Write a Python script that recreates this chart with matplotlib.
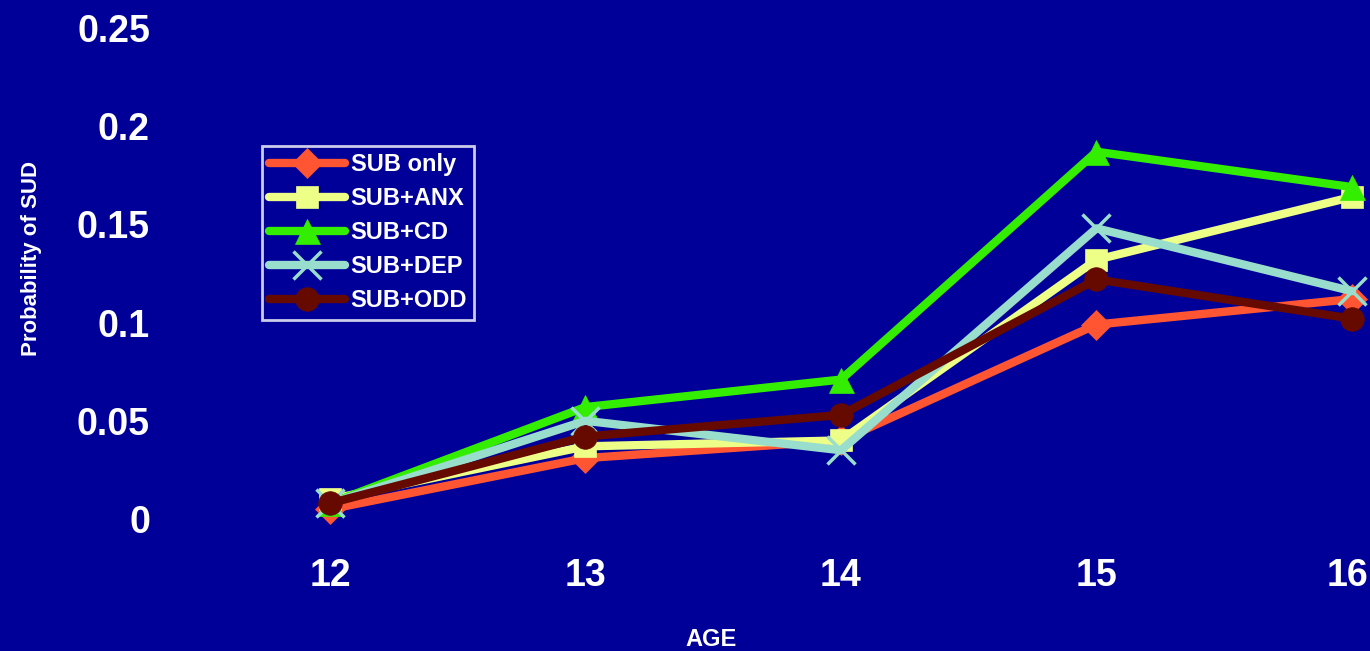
import matplotlib
matplotlib.use("Agg")
import matplotlib.pyplot as plt
import matplotlib.transforms as mtransforms

# data
AGES = [12, 13, 14, 15, 16]
SERIES = ["SUB only", "SUB+ANX", "SUB+CD", "SUB+DEP", "SUB+ODD"]

sub_only = [0.005, 0.031, 0.040, 0.099, 0.112]
sub_anx = [0.010, 0.037, 0.040, 0.132, 0.164]
sub_cd = [0.008, 0.057, 0.071, 0.187, 0.169]
sub_dep = [0.008, 0.050, 0.035, 0.148, 0.116]
sub_odd = [0.008, 0.042, 0.053, 0.122, 0.102]

COLORS = ["#FF5533", "#EEFF88", "#33EE00", "#99DDCC", "#660A00"]
MARKERS = ["D", "s", "^", "x", "o"]
MSIZES = [15, 16, 18, 20, 17]

BG = "#000099"

plt.rcParams["font.family"] = ["Liberation Sans", "DejaVu Sans"]
plt.rcParams["font.weight"] = "bold"

W, H = 1370, 651
fig = plt.figure(figsize=(W / 100, H / 100), dpi=100)
fig.patch.set_facecolor(BG)

left, right, top, bottom = 200, 1370, 28, 519
ax = fig.add_axes([left / W, (H - bottom) / H, (right - left) / W, (bottom - top) / H])
ax.set_facecolor(BG)

values = [sub_only, sub_anx, sub_cd, sub_dep, sub_odd]
for name, vals, col, mk, ms in zip(SERIES, values, COLORS, MARKERS, MSIZES):
    ax.plot(AGES, vals, color=col, lw=6, marker=mk, markersize=ms,
            markerfacecolor=col, markeredgecolor=col,
            markeredgewidth=2.5 if mk == "x" else 0.5,
            label=name, clip_on=False, solid_capstyle="round")

ax.set_xlim(12 - 130 / 255.5, 16 + 18 / 255.5)
ax.set_ylim(0, 0.25)
ax.set_xticks(AGES)
ax.set_yticks([0, 0.05, 0.1, 0.15, 0.2, 0.25])
ax.set_yticklabels(["0", "0.05", "0.1", "0.15", "0.2", "0.25"])
ax.tick_params(axis="both", length=0, colors="white", labelsize=27)
ax.tick_params(axis="y", pad=36)
ax.tick_params(axis="x", pad=28)
for s in ax.spines.values():
    s.set_visible(False)

# last age label sits against the right edge, nudge it in a little
last = ax.get_xticklabels()[-1]
last.set_transform(last.get_transform() + mtransforms.ScaledTranslation(-4 / 100, 0, fig.dpi_scale_trans))

ax.set_ylabel("Probability of SUD", color="white", fontsize=16, fontweight="bold")
ax.yaxis.set_label_coords((42 - left) / (right - left), (bottom - 258) / (bottom - top))
ax.set_xlabel("AGE", color="white", fontsize=17, fontweight="bold")
ax.xaxis.set_label_coords((711 - left) / (right - left), (bottom - 628) / (bottom - top))

leg = fig.legend(loc="upper left", bbox_to_anchor=(262 / W, 1 - 146 / H),
                 fontsize=17, frameon=True, fancybox=False, facecolor=BG,
                 edgecolor="white", handlelength=3.2, labelspacing=0.47,
                 borderpad=0.3, handletextpad=0.25, borderaxespad=0)
leg.get_frame().set_linewidth(2)
for t in leg.get_texts():
    t.set_color("white")
    t.set_fontweight("bold")

fig.savefig("out.png", dpi=100, facecolor=BG)
